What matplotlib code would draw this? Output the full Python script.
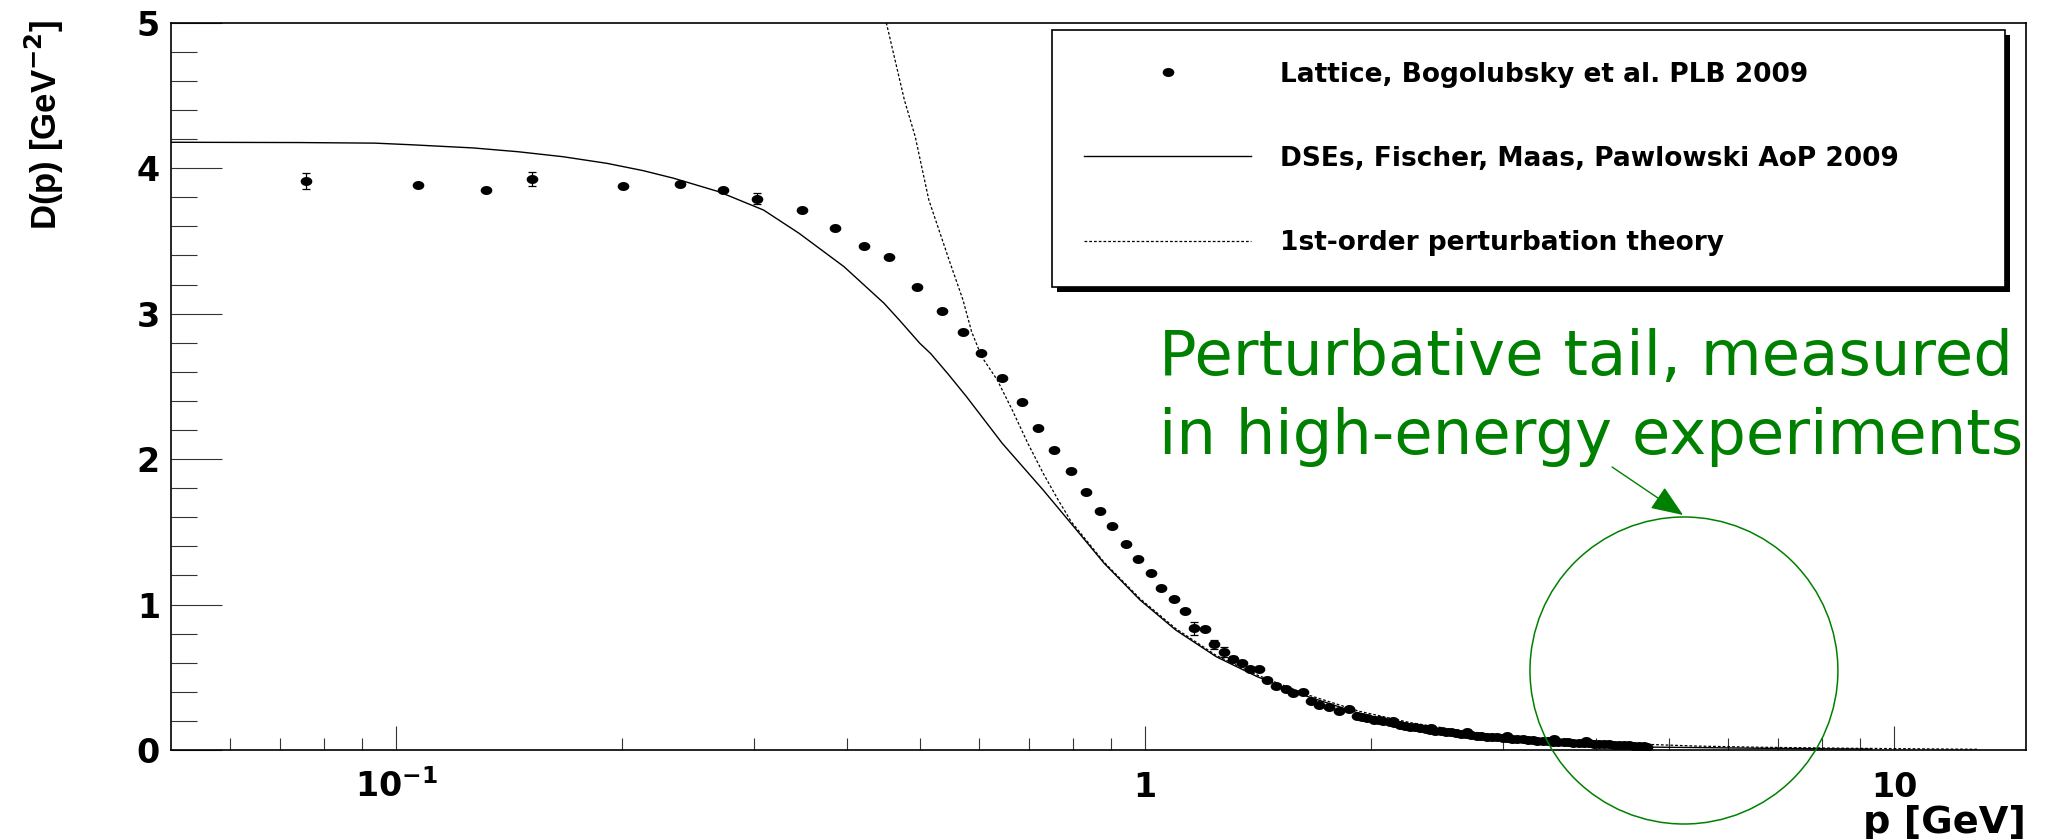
import numpy as np
import matplotlib
matplotlib.use('Agg')
import matplotlib.pyplot as plt
from matplotlib.path import Path
from matplotlib.patches import Ellipse
from matplotlib.ticker import FixedLocator, FixedFormatter, NullFormatter
import matplotlib.patheffects as pe

plt.rcParams['font.family'] = 'DejaVu Sans'
plt.rcParams['font.weight'] = 'bold'
plt.rcParams['mathtext.fontset'] = 'dejavusans'
plt.rcParams['mathtext.default'] = 'bf'

# lattice data (Bogolubsky et al.), low/intermediate momenta
p_lat = [0.0757, 0.107, 0.1316, 0.1515, 0.201, 0.239, 0.2733, 0.303, 0.3475, 0.385,
         0.4217, 0.4542, 0.496, 0.5356, 0.5709, 0.604, 0.644, 0.684, 0.719, 0.755,
         0.795, 0.833, 0.869, 0.904, 0.943, 0.979, 1.019, 1.049, 1.092, 1.130,
         1.162, 1.201, 1.236, 1.273, 1.311, 1.347, 1.381, 1.419, 1.452, 1.496,
         1.539, 1.576, 1.626, 1.664, 1.704, 1.759, 1.815, 1.873, 1.918]
D_lat = [3.912, 3.882, 3.848, 3.925, 3.877, 3.891, 3.848, 3.790, 3.712, 3.589,
         3.467, 3.391, 3.181, 3.016, 2.871, 2.727, 2.555, 2.390, 2.216, 2.065,
         1.916, 1.772, 1.643, 1.542, 1.418, 1.313, 1.219, 1.111, 1.038, 0.958,
         0.836, 0.829, 0.726, 0.676, 0.623, 0.600, 0.555, 0.559, 0.481, 0.442,
         0.419, 0.390, 0.401, 0.337, 0.309, 0.293, 0.270, 0.279, 0.234]
err_lat = [0.055, 0, 0, 0.050, 0, 0, 0, 0.037, 0, 0,
           0, 0, 0, 0, 0, 0, 0, 0, 0, 0,
           0, 0, 0, 0, 0, 0, 0, 0, 0, 0,
           0.046, 0, 0.030, 0.035, 0.020, 0, 0, 0, 0, 0,
           0, 0, 0, 0, 0, 0, 0, 0, 0]

# lattice data, dense high-momentum region
p_band = [1.95, 1.98, 2.02, 2.05, 2.08, 2.12, 2.139, 2.15, 2.19, 2.22, 2.26, 2.29,
          2.33, 2.37, 2.40, 2.408, 2.44, 2.48, 2.52, 2.56, 2.60, 2.64, 2.68, 2.685,
          2.72, 2.77, 2.81, 2.86, 2.90, 2.95, 3.00, 3.04, 3.04, 3.09, 3.14, 3.19,
          3.24, 3.29, 3.34, 3.40, 3.45, 3.50, 3.51, 3.56, 3.62, 3.67, 3.73, 3.79,
          3.85, 3.88, 3.91, 3.97, 4.03, 4.10, 4.16, 4.23, 4.29, 4.36, 4.43, 4.50,
          4.57, 4.64, 4.68]
D_band = [0.227, 0.218, 0.209, 0.203, 0.199, 0.192, 0.202, 0.186, 0.172, 0.166, 0.160, 0.155,
          0.149, 0.144, 0.139, 0.153, 0.134, 0.129, 0.125, 0.121, 0.117, 0.112, 0.107, 0.121,
          0.102, 0.098, 0.095, 0.092, 0.089, 0.086, 0.082, 0.080, 0.098, 0.077, 0.075, 0.073,
          0.070, 0.068, 0.065, 0.062, 0.060, 0.058, 0.073, 0.056, 0.054, 0.052, 0.050, 0.048,
          0.047, 0.064, 0.045, 0.043, 0.041, 0.039, 0.038, 0.037, 0.035, 0.033, 0.031, 0.029,
          0.027, 0.026, 0.024]

# DSE solution (Fischer, Maas, Pawlowski)
p_dse = [0.05, 0.0741, 0.0936, 0.1045, 0.1266, 0.1453, 0.1667, 0.1911, 0.2135, 0.2348,
         0.2695, 0.3092, 0.3449, 0.3959, 0.4479, 0.4705, 0.4999, 0.517, 0.5467, 0.5771,
         0.6442, 0.7306, 0.8027, 0.8813, 0.9841, 1.098, 1.244, 1.411, 1.651, 1.931,
         2.259, 2.643, 3.092, 3.617, 4.684, 5.395, 6.63, 9.33]
D_dse = [4.178, 4.176, 4.172, 4.161, 4.139, 4.113, 4.079, 4.033, 3.983, 3.930,
         3.838, 3.712, 3.552, 3.323, 3.071, 2.950, 2.796, 2.725, 2.578, 2.429,
         2.108, 1.787, 1.535, 1.283, 1.031, 0.825, 0.641, 0.504, 0.366, 0.252,
         0.172, 0.115, 0.074, 0.046, 0.020, 0.017, 0.012, 0.006]

# first-order perturbation theory
p_pt = [0.451, 0.4767, 0.4929, 0.514, 0.547, 0.5709, 0.5862, 0.6047, 0.6343, 0.6643,
        0.6968, 0.7306, 0.765, 0.7963, 0.8813, 0.9841, 1.098, 1.244, 1.411, 1.651,
        1.931, 2.259, 2.643, 3.092, 3.617, 4.67, 5.44, 6.61, 8.65, 12.9]
D_pt = [5.0, 4.47, 4.217, 3.781, 3.369, 3.094, 2.876, 2.704, 2.544, 2.337,
        2.109, 1.902, 1.719, 1.570, 1.290, 1.040, 0.835, 0.650, 0.515, 0.378,
        0.266, 0.188, 0.132, 0.093, 0.066, 0.039, 0.027, 0.019, 0.012, 0.005]

x_major = [0.1, 1, 10]
x_major_labels = ['$10^{-1}$', '1', '10']
x_minor = [0.06, 0.07, 0.08, 0.09, 0.2, 0.3, 0.4, 0.5, 0.6, 0.7, 0.8, 0.9,
           2, 3, 4, 5, 6, 7, 8, 9]

labels = ['Lattice, Bogolubsky et al. PLB 2009',
          'DSEs, Fischer, Maas, Pawlowski AoP 2009',
          '1st-order perturbation theory']

green = '#008000'

# slightly wide dot marker
t = np.linspace(0, 2 * np.pi, 41)
dot = Path(np.column_stack([1.3 * np.cos(t), np.sin(t)]), closed=True)

fig = plt.figure(figsize=(20.46, 8.39), dpi=100)
ax = fig.add_axes([0.08358, 0.10608, 0.90665, 0.86687])

l_dse, = ax.plot(p_dse, D_dse, color='black', lw=1.0, zorder=2)
l_pt, = ax.plot(p_pt, D_pt, color='black', lw=0.9, ls=(0, (2.2, 1.6)), zorder=2)

p_all = np.array(p_lat + p_band)
D_all = np.array(D_lat + D_band)
err = np.array(err_lat)
m = err > 0
ax.errorbar(np.array(p_lat)[m], np.array(D_lat)[m], yerr=err[m], fmt='none',
            ecolor='black', elinewidth=0.9, capsize=3.2, capthick=0.9, zorder=3)
l_lat, = ax.plot(p_all, D_all, ls='none', marker=dot, ms=8.4, mew=0,
                 color='black', zorder=4)

ax.set_xscale('log')
ax.set_xlim(0.05, 15)
ax.set_ylim(0, 5)

ax.xaxis.set_major_locator(FixedLocator(x_major))
ax.xaxis.set_major_formatter(FixedFormatter(x_major_labels))
ax.xaxis.set_minor_locator(FixedLocator(x_minor))
ax.xaxis.set_minor_formatter(NullFormatter())
ax.set_yticks(np.arange(0, 5.01, 1))
ax.set_yticks(np.arange(0, 5.01, 0.2), minor=True)

for s in ax.spines.values():
    s.set_linewidth(1.2)
ax.tick_params(which='both', direction='in', top=False, right=False,
               color='#333333', width=0.8, labelsize=24)
ax.tick_params(axis='y', which='major', length=36.5, pad=8)
ax.tick_params(axis='y', which='minor', length=18.5)
ax.tick_params(axis='x', which='major', length=17.3, pad=34)
ax.tick_params(axis='x', which='minor', length=8.6)
for tk in ax.xaxis.get_major_ticks():
    tk.label1.set_verticalalignment('baseline')

fig.text(0.0215, 0.9762, 'D(p) [GeV$^{-2}$]', rotation=90, ha='center', va='top',
         family='Liberation Sans', fontsize=25, fontweight='bold')
fig.text(2026 / 2046, 0.0405, 'p [GeV]', ha='right', va='top', fontsize=27.5)

leg = ax.legend([l_lat, l_dse, l_pt], labels, loc='upper left',
                bbox_to_anchor=(0.4749, 0.6229, 0.5138, 0.3671), mode='expand',
                borderaxespad=0, fontsize=19, numpoints=1, handlelength=6.36,
                handletextpad=1.1, borderpad=1.2, labelspacing=2.2,
                fancybox=False, framealpha=1, edgecolor='black')
leg.get_frame().set_linewidth(1.2)
leg.get_frame().set_path_effects([pe.withSimplePatchShadow(offset=(3.5, -3.5),
                                                           shadow_rgbFace='black',
                                                           alpha=1.0)])

# annotation of the perturbative region
fig.text(0.5665, 0.5530, 'Perturbative tail, measured', color=green,
         fontsize=45, fontweight='normal', family='DejaVu Sans', va='baseline')
fig.text(0.5665, 0.4589, 'in high-energy experiments', color=green,
         fontsize=45, fontweight='normal', family='DejaVu Sans', va='baseline')
ax.annotate('', xy=(0.8226, 0.3862), xytext=(0.7879, 0.4434),
            xycoords='figure fraction', textcoords='figure fraction',
            arrowprops=dict(arrowstyle='-|>,head_length=1.0,head_width=0.4',
                            mutation_scale=20, color=green, lw=1.0,
                            shrinkA=0, shrinkB=0))
ax.add_patch(Ellipse((0.8156, 0.1093), 0.1660, 0.4221, transform=ax.transAxes,
                     fill=False, edgecolor=green, lw=1.1, clip_on=False, zorder=5))

fig.savefig('out.png', dpi=100)
